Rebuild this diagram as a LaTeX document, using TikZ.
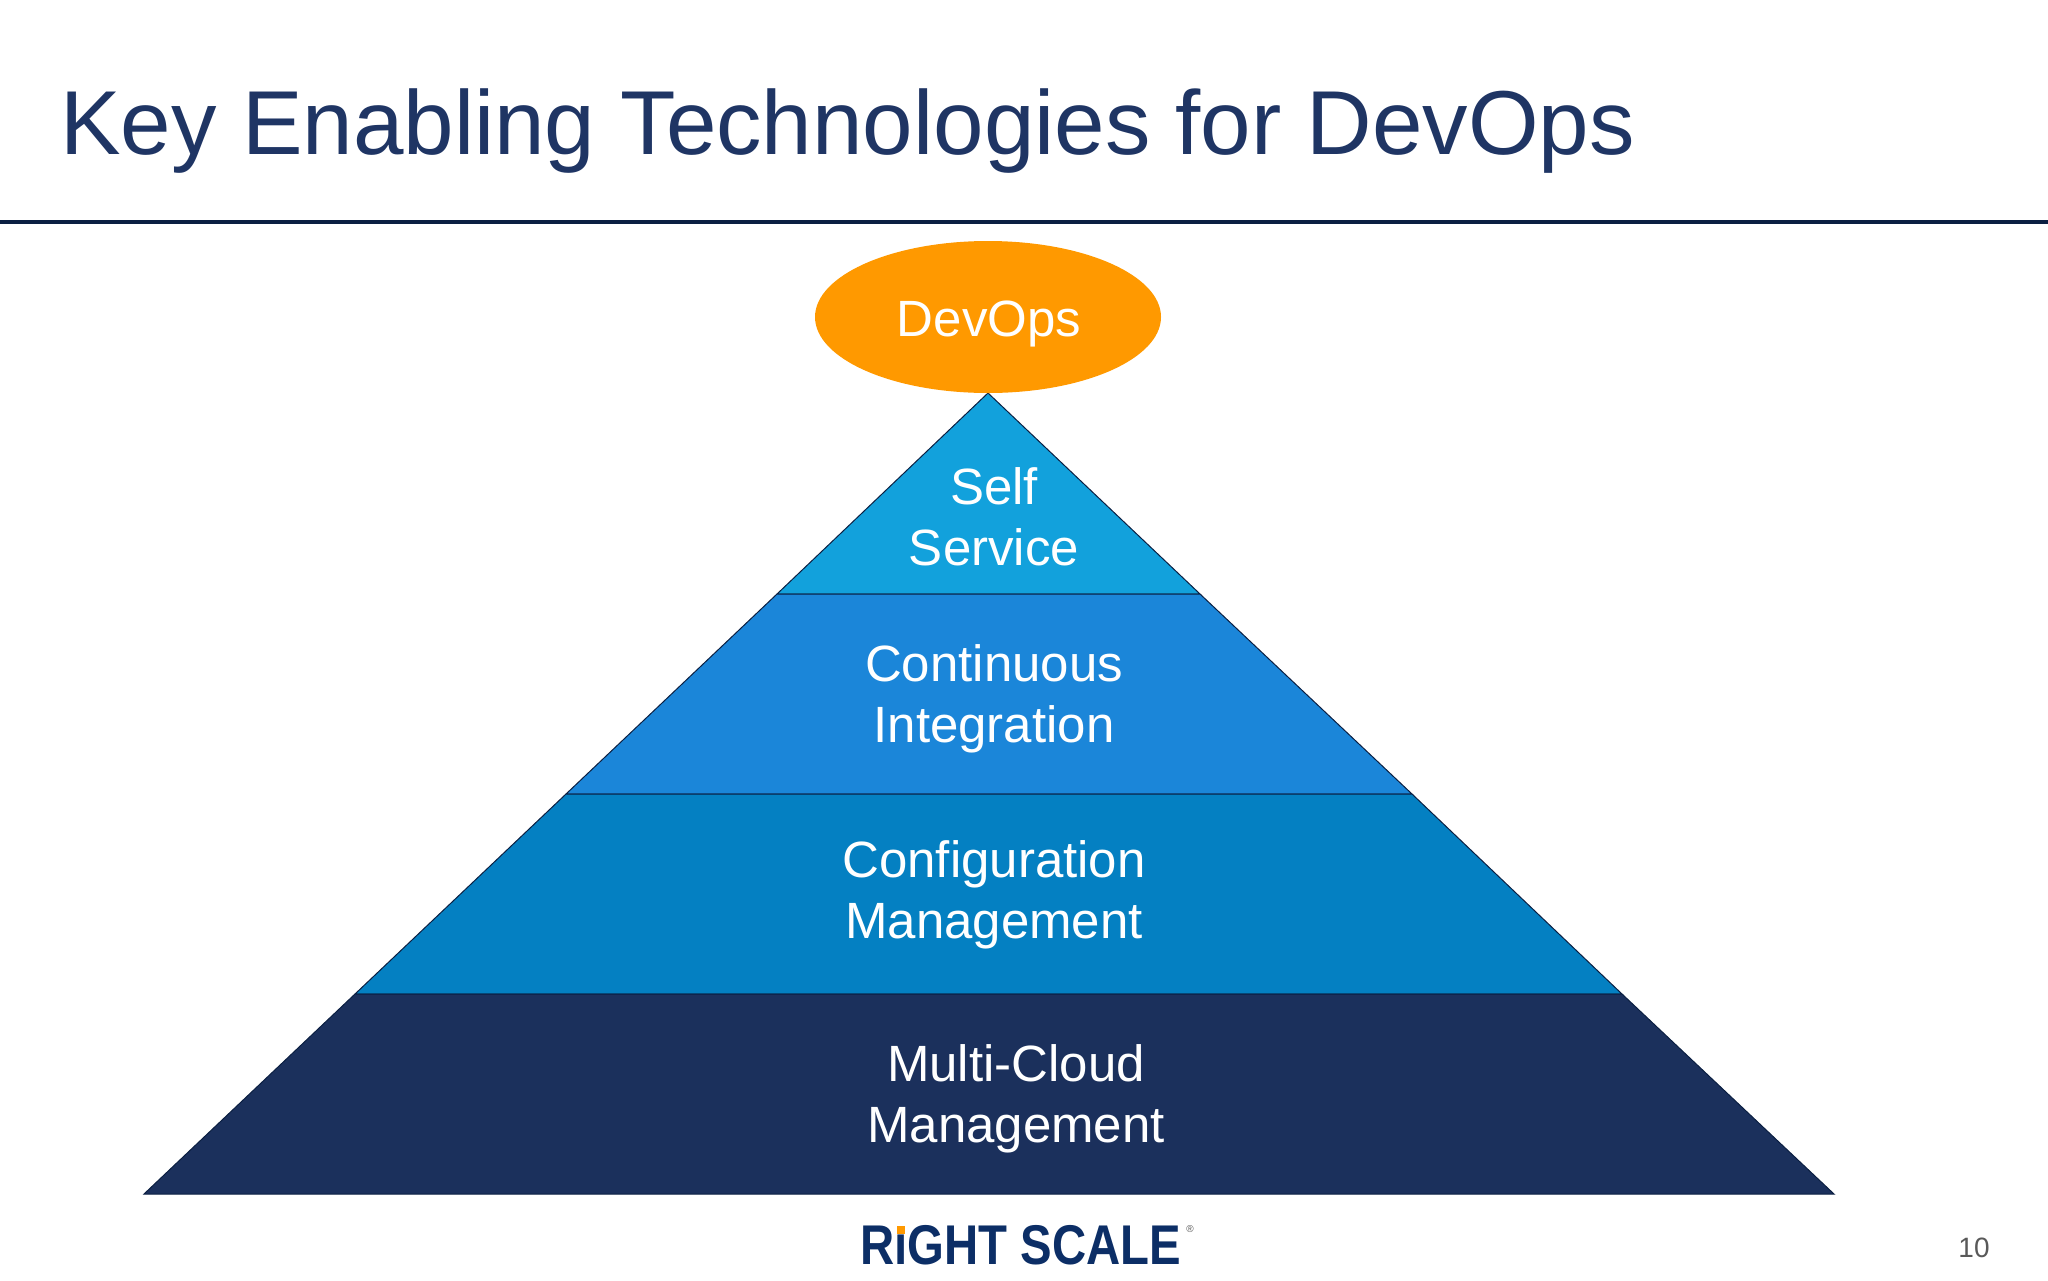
\documentclass[tikz,border=0pt]{standalone}
\usepackage{fontspec}
\setmainfont{Liberation Sans}
\usetikzlibrary{positioning}
\usetikzlibrary{shapes.geometric}
\definecolor{titleblue}{HTML}{1F3564}
\definecolor{ruleblue}{HTML}{0B1F42}
\definecolor{devopsorange}{HTML}{FF9900}
\definecolor{selfblue}{HTML}{12A1DC}
\definecolor{contblue}{HTML}{1B86D9}
\definecolor{confblue}{HTML}{0480C2}
\definecolor{cloudblue}{HTML}{1B305C}
\definecolor{logoblue}{HTML}{0C2E66}
\definecolor{pagegray}{HTML}{595959}
\tikzset{
    layer/.style={draw=ruleblue, line width=0.5pt},
    layertext/.style={
        rectangle, align=center, inner sep=0pt,
        text=white,
        font=\fontsize{25.5}{30.7}\selectfont,
    },
}

\begin{document}
\begin{tikzpicture}[x=0.5pt, y=-0.5pt]
    \useasboundingbox (0,0) rectangle (2048,1280);

    \node (title) at(60,131) [
        rectangle, anchor=west, inner sep=0pt,
        text=titleblue,
        font=\fontsize{45.4}{50}\selectfont,
    ] {Key Enabling Technologies for DevOps};
    \coordinate (ruleleft) at (0,222);
    \coordinate (ruleright) at (2048,222);
    \draw[ruleblue, line width=2pt] (ruleleft) -- (ruleright);

    % pyramid, top to bottom
    \coordinate (apex) at (988,393);
    \coordinate (l1) at (777,594);
    \coordinate (r1) at (1200,594);
    \coordinate (l2) at (566,794);
    \coordinate (r2) at (1412,794);
    \coordinate (l3) at (355,994);
    \coordinate (r3) at (1622,994);
    \coordinate (l4) at (144,1194);
    \coordinate (r4) at (1834,1194);
    \draw[layer, fill=selfblue] (apex) -- (r1) -- (l1) -- cycle;
    \draw[layer, fill=contblue] (l1) -- (r1) -- (r2) -- (l2) -- cycle;
    \draw[layer, fill=confblue] (l2) -- (r2) -- (r3) -- (l3) -- cycle;
    \draw[layer, fill=cloudblue] (l3) -- (r3) -- (r4) -- (l4) -- cycle;

    \node (devops) at(988,317) [
        ellipse, inner sep=0pt,
        minimum width=173pt, minimum height=76pt,
        fill=devopsorange,
    ] {};
    \node (devopstext) at(989,324) [layertext] {DevOps};

    \node (self) at(994,517) [layertext] {Self\\Service};
    \node (cont) at(994,699) [layertext] {Continuous\\Integration};
    \node (conf) at(994,895) [layertext] {Configuration\\Management};
    \node (cloud) at(1016,1099) [layertext] {Multi-Cloud\\Management};

    % logo
    \node (logo) at(860,1245) [
        rectangle, anchor=west, inner sep=0pt,
        text=logoblue,
        font=\fontsize{28}{30}\bfseries\selectfont,
    ] {\scalebox{0.845}[1]{RıGHT SCALE}};
    \node (logodot) at(901,1230) [
        rectangle, inner sep=0pt,
        minimum width=4pt, minimum height=4pt,
        fill=devopsorange,
    ] {};
    \node (reg) at(1190,1229) [
        inner sep=0pt, text=pagegray,
        font=\fontsize{5}{6}\selectfont,
    ] {®};

    \node (pagenum) at(1974,1248) [
        inner sep=0pt, text=pagegray,
        font=\fontsize{14}{16}\selectfont,
    ] {10};
\end{tikzpicture}
\end{document}
